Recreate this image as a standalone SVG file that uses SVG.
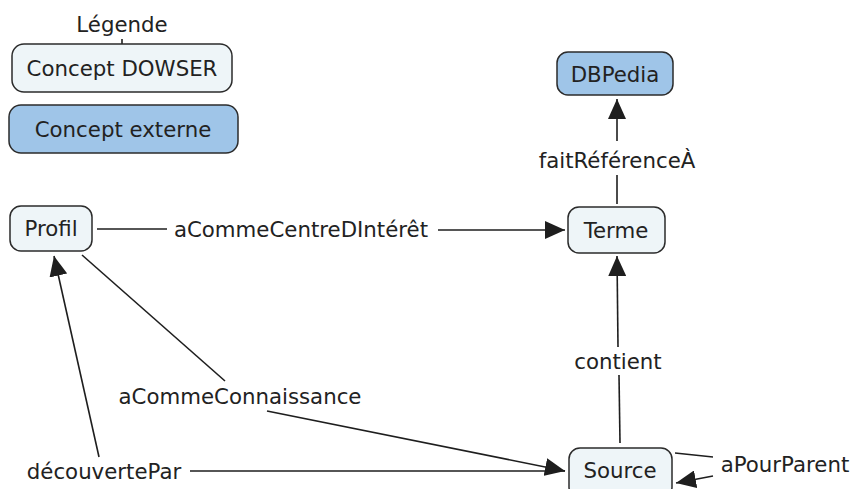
<svg xmlns="http://www.w3.org/2000/svg" width="853" height="489" viewBox="0 0 853 489">
  <style>
    .bg { fill: #ffffff; }
    .node rect { stroke: #2b2b2b; stroke-width: 1.5; }
    .int rect { fill: #eef5f8; }
    .ext rect { fill: #9fc5e8; }
    text { font-family: "DejaVu Sans", Verdana, sans-serif; font-size: 21.3px; fill: #222222; text-anchor: middle; }
    .edge { stroke: #1e1e1e; stroke-width: 1.6; fill: none; }
    .head { fill: #1e1e1e; }
  </style>
  <defs>
    <marker id="arrow" viewBox="0 0 20 18" refX="20" refY="9" markerWidth="20" markerHeight="18" markerUnits="userSpaceOnUse" orient="auto">
      <path class="head" d="M0,0 L20,9 L0,18 Z"/>
    </marker>
  </defs>
  <rect class="bg" x="0" y="0" width="853" height="489"/>

  <!-- legend -->
  <g id="legende">
    <text x="122" y="32">Légende</text>
    <line class="edge" x1="122" y1="39" x2="122" y2="44"/>
  </g>
  <g id="concept-dowser" class="node int">
    <rect x="12" y="44" width="220" height="48" rx="12"/>
    <text x="122" y="76">Concept DOWSER</text>
  </g>
  <g id="concept-externe" class="node ext">
    <rect x="9" y="105" width="229" height="48" rx="12"/>
    <text x="123" y="137">Concept externe</text>
  </g>

  <!-- concepts -->
  <g id="dbpedia" class="node ext">
    <rect x="557" y="52" width="116" height="43" rx="11"/>
    <text x="615" y="82">DBPedia</text>
  </g>
  <g id="terme" class="node int">
    <rect x="568" y="207" width="97" height="46" rx="11"/>
    <text x="616" y="238">Terme</text>
  </g>
  <g id="profil" class="node int">
    <rect x="10" y="206" width="82" height="45" rx="11"/>
    <text x="51" y="236">Profil</text>
  </g>
  <g id="source" class="node int">
    <rect x="569" y="448" width="103" height="50" rx="11"/>
    <text x="620" y="478">Source</text>
  </g>

  <!-- connectors and link labels -->
  <g id="connectors">
    <line class="edge" x1="97" y1="229" x2="167" y2="229"/>
    <text x="301" y="237">aCommeCentreDIntérêt</text>
    <line class="edge" x1="438" y1="230" x2="565" y2="230" marker-end="url(#arrow)"/>

    <line class="edge" x1="617" y1="204" x2="617" y2="175"/>
    <text x="617" y="168">faitRéférenceÀ</text>
    <line class="edge" x1="617" y1="141" x2="617" y2="99" marker-end="url(#arrow)"/>

    <line class="edge" x1="620" y1="443" x2="619" y2="375"/>
    <text x="618" y="369">contient</text>
    <line class="edge" x1="618" y1="347" x2="617" y2="256" marker-end="url(#arrow)"/>

    <line class="edge" x1="82" y1="255" x2="225" y2="381"/>
    <text x="240" y="404">aCommeConnaissance</text>
    <line class="edge" x1="267" y1="411" x2="565" y2="471" marker-end="url(#arrow)"/>

    <line class="edge" x1="190" y1="471" x2="565" y2="471"/>
    <text x="104" y="479">découvertePar</text>
    <line class="edge" x1="99" y1="457" x2="54" y2="256" marker-end="url(#arrow)"/>

    <line class="edge" x1="675" y1="453" x2="713" y2="457"/>
    <text x="785" y="472">aPourParent</text>
    <line class="edge" x1="713" y1="476" x2="676" y2="483" marker-end="url(#arrow)"/>
  </g>
</svg>
